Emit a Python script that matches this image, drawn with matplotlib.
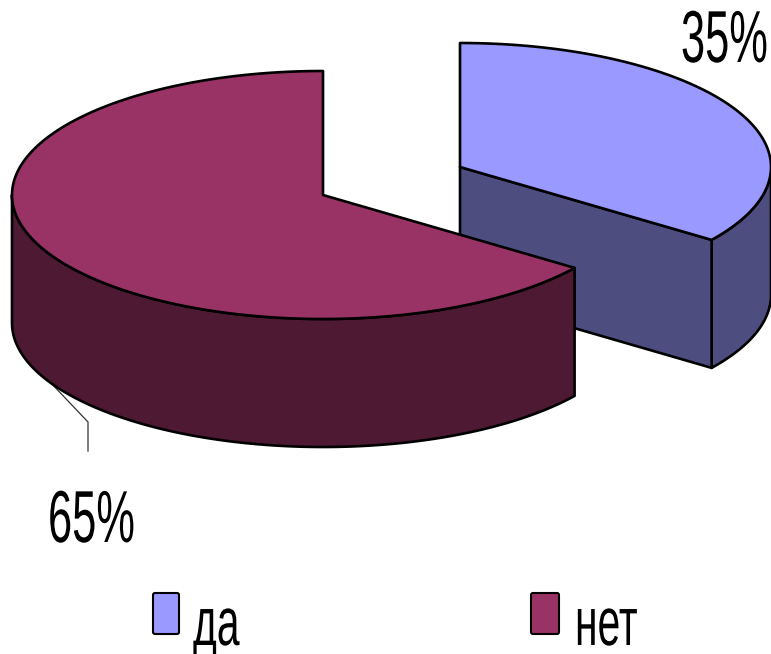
import numpy as np
import matplotlib
matplotlib.use("Agg")
import matplotlib.pyplot as plt
from matplotlib.patches import Polygon, FancyBboxPatch
from matplotlib.patheffects import AbstractPathEffect
from matplotlib.transforms import Affine2D

categories = ["да", "нет"]
shares = [35, 65]
share_labels = ["35%", "65%"]
top_colors = ["#9999FF", "#993366"]
side_colors = ["#4D4D80", "#4D1933"]

WIDTH, HEIGHT = 771, 654
FONT = ["Liberation Sans", "DejaVu Sans"]
RX, RY, DEPTH = 311, 124, 128
CENTERS = [(460, 167), (323, 195)]

fig = plt.figure(figsize=(WIDTH / 100, HEIGHT / 100), dpi=100)
ax = fig.add_axes([0, 0, 1, 1])
ax.set_xlim(0, WIDTH)
ax.set_ylim(HEIGHT, 0)
ax.axis("off")


class Condensed(AbstractPathEffect):
    """Squeeze glyph outlines horizontally about a fixed x position (in pixels)."""

    def __init__(self, anchor_x, factor):
        super().__init__()
        self.anchor_x = anchor_x
        self.factor = factor

    def draw_path(self, renderer, gc, tpath, affine, rgbFace=None):
        squeeze = (Affine2D().translate(-self.anchor_x, 0)
                   .scale(self.factor, 1).translate(self.anchor_x, 0))
        renderer.draw_path(gc, tpath, affine + squeeze, rgbFace)


def narrow_text(x, y, s, size, factor, ha):
    t = ax.text(x, y, s, fontsize=size, family=FONT, ha=ha, va="baseline", color="black")
    t.set_path_effects([Condensed(x, factor)])
    return t


def rim(center, start, stop):
    # Points on the elliptical rim, angles clockwise from twelve o'clock.
    t = np.radians(np.linspace(start, stop, 200))
    return np.column_stack([center[0] + RX * np.sin(t), center[1] - RY * np.cos(t)])


def down(points):
    return points + np.array([0, DEPTH])


def draw_slice(center, start, stop, top, side, z):
    c = np.array(center, dtype=float)
    edge = dict(edgecolor="black", linewidth=1.9, joinstyle="round", zorder=z)
    # Outer wall: only the part of the rim that faces the viewer.
    lo, hi = max(start, 90), min(stop, 270)
    if lo < hi:
        wall = rim(center, lo, hi)
        ax.add_patch(Polygon(np.vstack([wall, down(wall)[::-1]]), facecolor=side, **edge))
    # Cut wall along the slice's trailing edge, visible when that edge points forward.
    if stop < 180:
        p = rim(center, stop, stop)[0]
        ax.add_patch(Polygon([c, p, p + [0, DEPTH], c + [0, DEPTH]], facecolor=side, **edge))
    ax.add_patch(Polygon(np.vstack([c, rim(center, start, stop)]), facecolor=top, **edge))


boundary = 360 * shares[0] / sum(shares)
draw_slice(CENTERS[0], 0, boundary, top_colors[0], side_colors[0], 1)
draw_slice(CENTERS[1], boundary, 360, top_colors[1], side_colors[1], 2)

# Leader line for the lower label
ax.plot([50, 88, 88], [382, 422, 451], color="#333333", linewidth=0.9, zorder=0)

narrow_text(768, 62, share_labels[0], 53, 0.59, "right")
narrow_text(48, 542, share_labels[1], 53, 0.59, "left")

# Legend keys and labels
for x, w, color, name, tx in zip([153, 531], [26, 28], top_colors, categories, [193, 575]):
    ax.add_patch(FancyBboxPatch((x, 593), w, 41, boxstyle="round,pad=0,rounding_size=2",
                                facecolor=color, edgecolor="black", linewidth=1.5))
    narrow_text(tx, 645, name, 49, 0.6, "left")

fig.savefig("out.png", dpi=100, facecolor="white")
